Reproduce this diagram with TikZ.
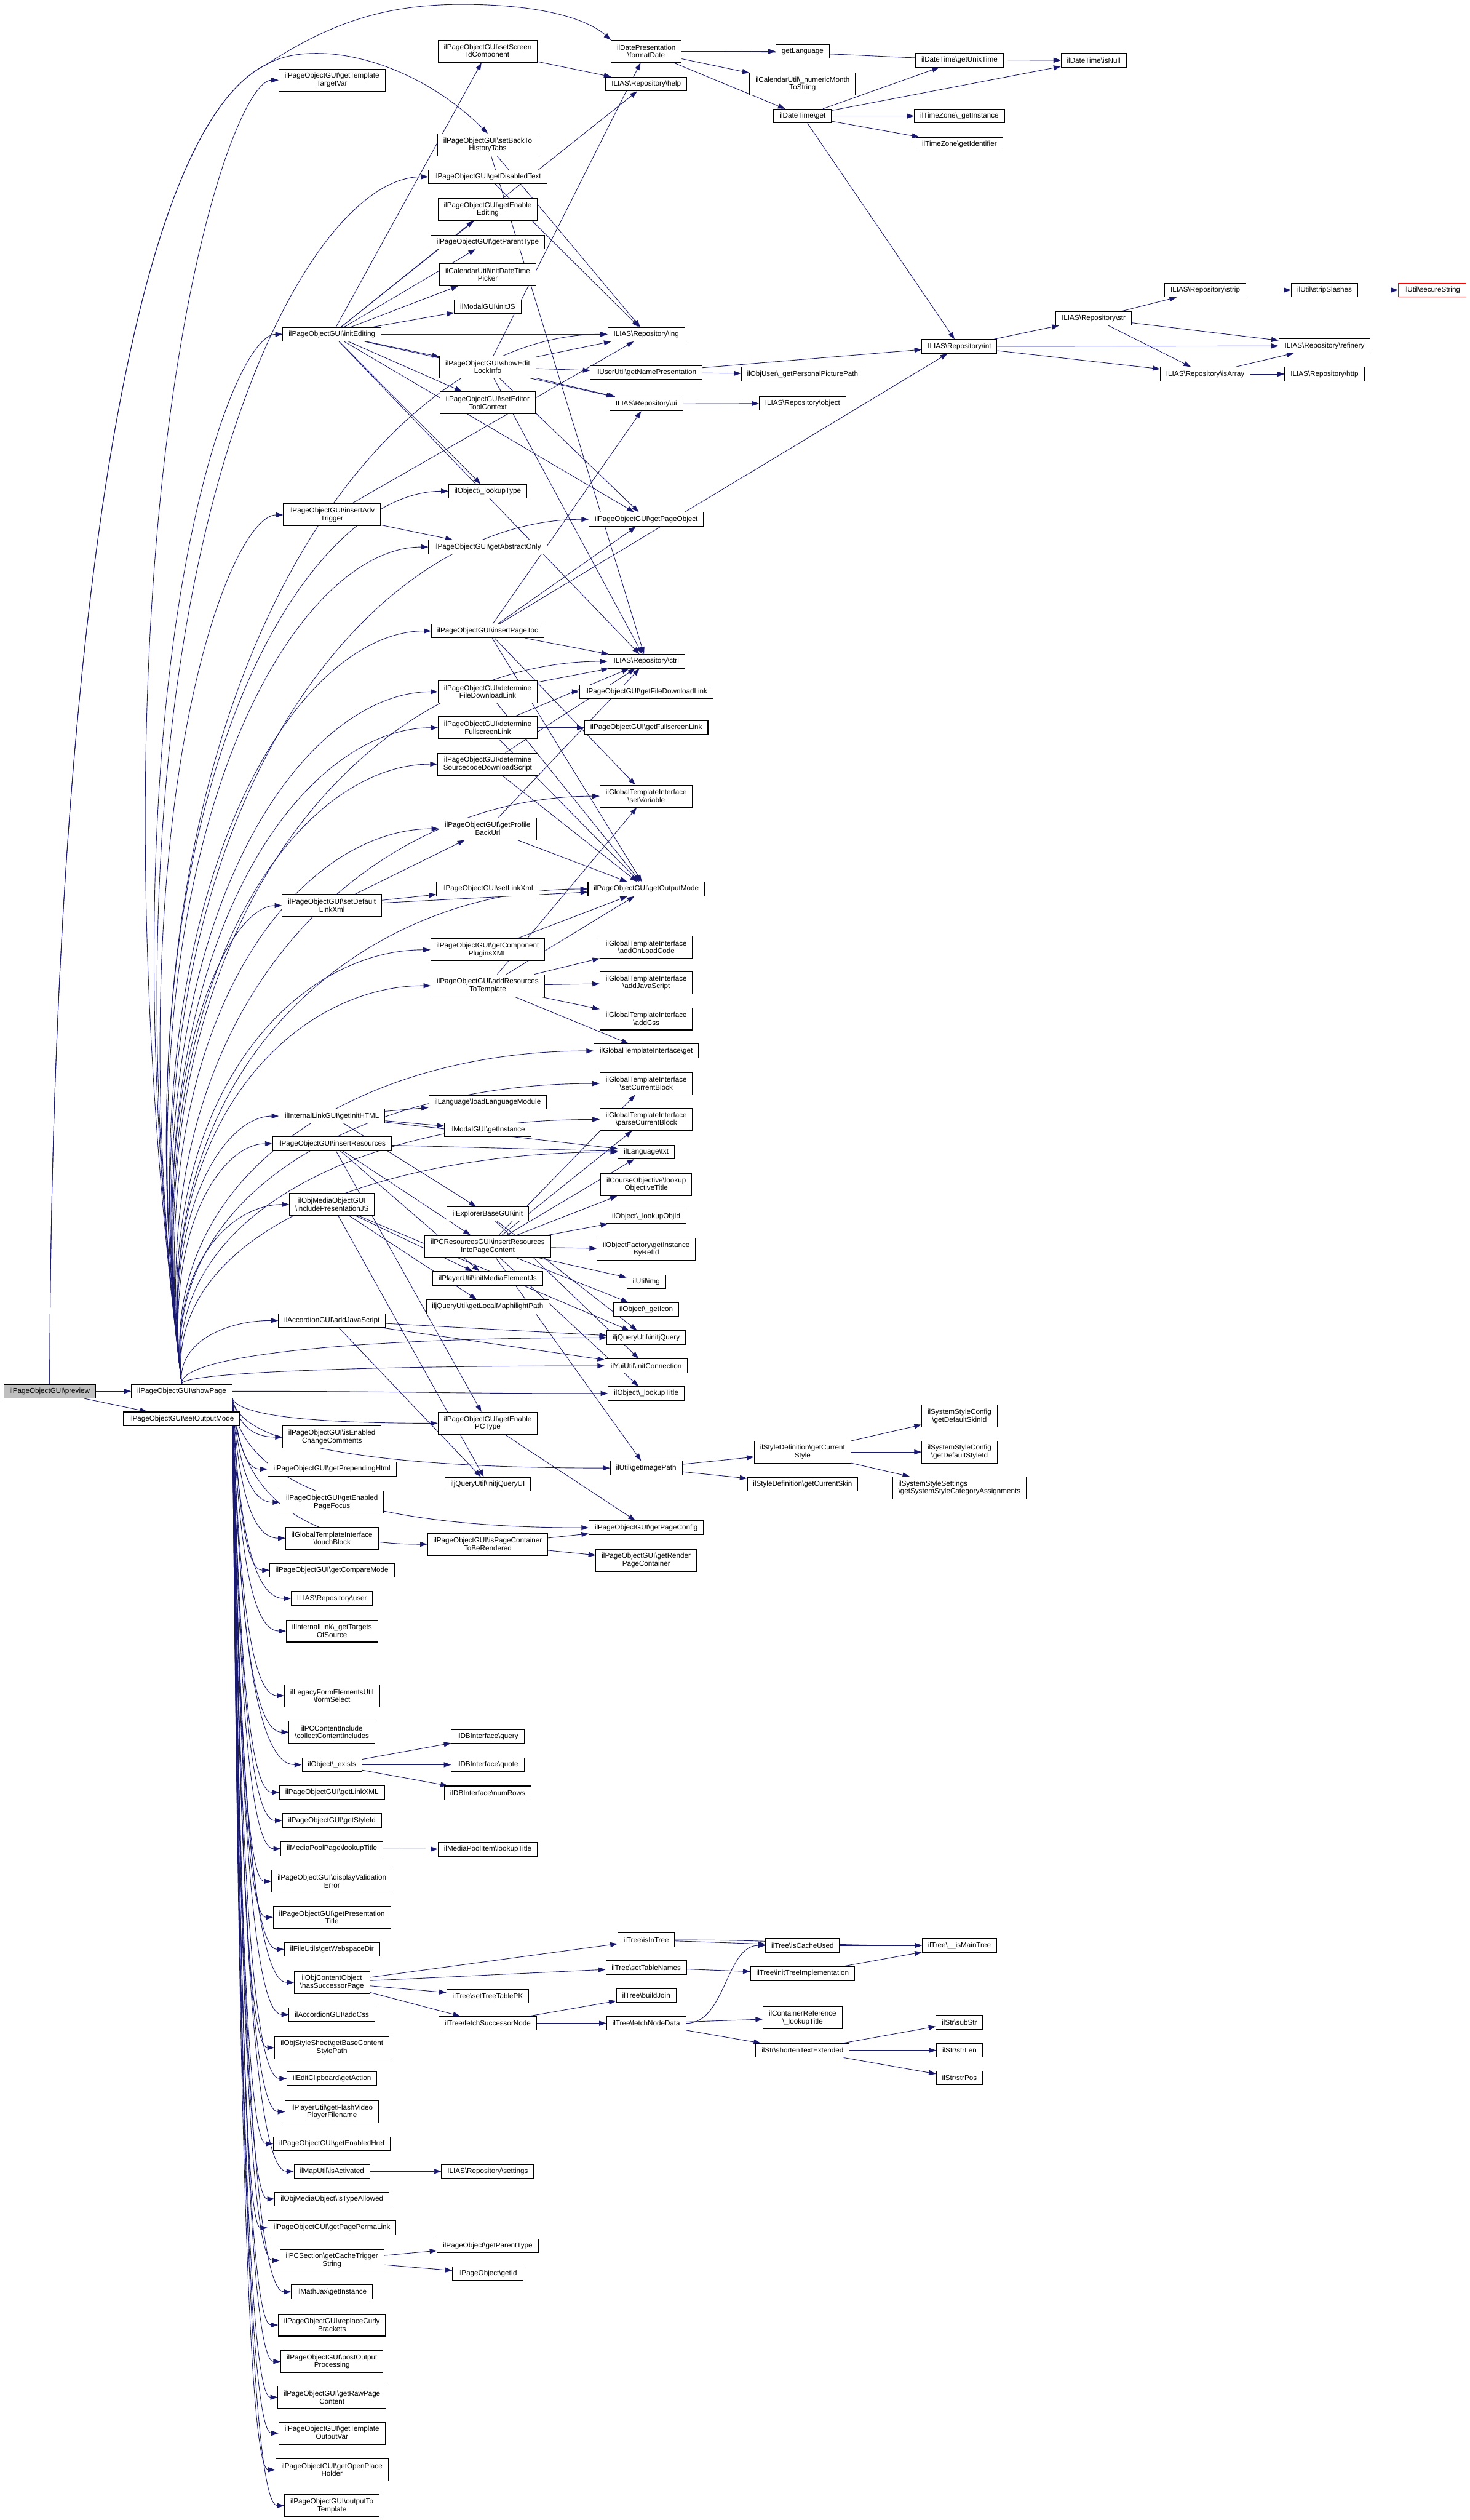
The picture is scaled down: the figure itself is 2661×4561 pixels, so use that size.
\documentclass[tikz,border=0pt]{standalone}
\usepackage{fontspec}
\setmainfont{Liberation Sans}
\usetikzlibrary{arrows.meta,calc}
\pgfdeclarelayer{bg}
\pgfsetlayers{bg,main}
\definecolor{edgeblue}{RGB}{25,25,112}
\definecolor{rootgray}{RGB}{191,191,191}
\newcommand\BSL{\textbackslash}
\newcommand\dfont{\fontsize{13}{14}\selectfont}
\newcommand\fup[2]{\draw[edg] let \p1=(#1), \p2=(#2.west) in (\p1) .. controls ({(\x1)-0.08*abs((\y2)-(\y1))},{0.35*(\y1)+0.65*(\y2)}) and ({(\x2)-0.55*((\x2)-(\x1))},{\y2}) .. (\p2);}
\newcommand\fdn[2]{\draw[edg] let \p1=(#1), \p2=(#2.west) in (\p1) .. controls ({(\x1)+12pt},{0.3*(\y1)+0.7*(\y2)}) and ({(\x2)-0.6*((\x2)-(\x1))},{\y2}) .. (\p2);}
\newcommand\ecv[2]{\draw[edg] (#1.east) .. controls ($(#1.east)!0.5!(#1.east-|#2.west)$) and ($(#2.west)!0.5!(#2.west-|#1.east)$) .. (#2.west);}
\newcommand\stl[2]{\draw[edg] (#1) -- (#2);}
\begin{document}
\begin{tikzpicture}[x=1pt,y=-1pt,
  nbox/.style={draw=black,line width=1.2pt,fill=white,inner xsep=10.5pt,inner ysep=0pt,minimum height=25pt,font=\dfont,align=center},
  nbox2/.style={nbox,minimum height=40pt},
  edg/.style={draw=edgeblue,line width=1pt,-{Triangle[length=13pt,width=9pt]}}]
\useasboundingbox (0,0) rectangle (2661,4561);
% column 0 / 1
\node[nbox,fill=rootgray] (pv) at (90,2518) {ilPageObjectGUI\BSL{}preview};
\node[nbox] (sp) at (329,2518) {ilPageObjectGUI\BSL{}showPage};
\node[nbox] (som) at (329,2568) {ilPageObjectGUI\BSL{}setOutputMode};
% column 2
\node[nbox2] (c2a) at (601,145) {ilPageObjectGUI\BSL{}getTemplate\\TargetVar};
\node[nbox] (ie) at (601,605) {ilPageObjectGUI\BSL{}initEditing};
\node[nbox2] (iat) at (601,932) {ilPageObjectGUI\BSL{}insertAdv\\Trigger};
\node[nbox2] (sdl) at (601,1639) {ilPageObjectGUI\BSL{}setDefault\\LinkXml};
\node[nbox] (gih) at (601,2020) {ilInternalLinkGUI\BSL{}getInitHTML};
\node[nbox] (irs) at (601,2070) {ilPageObjectGUI\BSL{}insertResources};
\node[nbox2] (ipj) at (601,2180) {ilObjMediaObjectGUI\\\BSL{}includePresentationJS};
\node[nbox] (ajs) at (601,2390) {ilAccordionGUI\BSL{}addJavaScript};
\node[nbox2] (iecc) at (601,2601) {ilPageObjectGUI\BSL{}isEnabled\\ChangeComments};
\node[nbox] (gph) at (601,2659) {ilPageObjectGUI\BSL{}getPrependingHtml};
\node[nbox2] (gepf) at (601,2719) {ilPageObjectGUI\BSL{}getEnabled\\PageFocus};
\node[nbox2] (tb) at (601,2784) {ilGlobalTemplateInterface\\\BSL{}touchBlock};
\node[nbox] (gcm) at (601,2842) {ilPageObjectGUI\BSL{}getCompareMode};
\node[nbox] (usr) at (601,2893) {ILIAS\BSL{}Repository\BSL{}user};
\node[nbox2] (gtos) at (601,2952) {ilInternalLink\BSL\_getTargets\\OfSource};
\node[nbox2] (fs) at (601,3069) {ilLegacyFormElementsUtil\\\BSL{}formSelect};
\node[nbox2] (cci) at (601,3135) {ilPCContentInclude\\\BSL{}collectContentIncludes};
\node[nbox] (ex) at (601,3194) {ilObject\BSL\_exists};
\node[nbox] (glx) at (601,3244) {ilPageObjectGUI\BSL{}getLinkXML};
\node[nbox] (gsi) at (601,3295) {ilPageObjectGUI\BSL{}getStyleId};
\node[nbox] (mplt) at (601,3346) {ilMediaPoolPage\BSL{}lookupTitle};
\node[nbox2] (dve) at (601,3405) {ilPageObjectGUI\BSL{}displayValidation\\Error};
\node[nbox2] (gpt) at (601,3470) {ilPageObjectGUI\BSL{}getPresentation\\Title};
\node[nbox] (gwd) at (601,3528) {ilFileUtils\BSL{}getWebspaceDir};
\node[nbox2] (hsp) at (601,3588) {ilObjContentObject\\\BSL{}hasSuccessorPage};
\node[nbox] (acss) at (601,3646) {ilAccordionGUI\BSL{}addCss};
\node[nbox2] (gbcs) at (601,3706) {ilObjStyleSheet\BSL{}getBaseContent\\StylePath};
\node[nbox] (gact) at (601,3762) {ilEditClipboard\BSL{}getAction};
\node[nbox2] (gfv) at (601,3822) {ilPlayerUtil\BSL{}getFlashVideo\\PlayerFilename};
\node[nbox] (geh) at (601,3880) {ilPageObjectGUI\BSL{}getEnabledHref};
\node[nbox] (iact) at (601,3930) {ilMapUtil\BSL{}isActivated};
\node[nbox] (ita) at (601,3980) {ilObjMediaObject\BSL{}isTypeAllowed};
\node[nbox] (gppl) at (601,4032) {ilPageObjectGUI\BSL{}getPagePermaLink};
\node[nbox2] (gcts) at (601,4091) {ilPCSection\BSL{}getCacheTrigger\\String};
\node[nbox] (mj) at (601,4148) {ilMathJax\BSL{}getInstance};
\node[nbox2] (rcb) at (601,4208) {ilPageObjectGUI\BSL{}replaceCurly\\Brackets};
\node[nbox2] (pop) at (601,4274) {ilPageObjectGUI\BSL{}postOutput\\Processing};
\node[nbox2] (grpc) at (601,4339) {ilPageObjectGUI\BSL{}getRawPage\\Content};
\node[nbox2] (gtov) at (601,4404) {ilPageObjectGUI\BSL{}getTemplate\\OutputVar};
\node[nbox2] (gopl) at (601,4470) {ilPageObjectGUI\BSL{}getOpenPlace\\Holder};
\node[nbox2] (otot) at (601,4535) {ilPageObjectGUI\BSL{}outputTo\\Template};
% column 3
\node[nbox2] (ssic) at (883,93) {ilPageObjectGUI\BSL{}setScreen\\IdComponent};
\node[nbox2] (sbth) at (883,262) {ilPageObjectGUI\BSL{}setBackTo\\HistoryTabs};
\node[nbox] (gdt) at (883,320) {ilPageObjectGUI\BSL{}getDisabledText};
\node[nbox2] (gee) at (883,379) {ilPageObjectGUI\BSL{}getEnable\\Editing};
\node[nbox] (gpty) at (883,438) {ilPageObjectGUI\BSL{}getParentType};
\node[nbox2] (idtp) at (883,497) {ilCalendarUtil\BSL{}initDateTime\\Picker};
\node[nbox] (ijs) at (883,555) {ilModalGUI\BSL{}initJS};
\node[nbox2] (seli) at (883,664) {ilPageObjectGUI\BSL{}showEdit\\LockInfo};
\node[nbox2] (setc) at (883,729) {ilPageObjectGUI\BSL{}setEditor\\ToolContext};
\node[nbox] (lty) at (883,889) {ilObject\BSL\_lookupType};
\node[nbox] (gao) at (883,990) {ilPageObjectGUI\BSL{}getAbstractOnly};
\node[nbox] (ipt) at (883,1142) {ilPageObjectGUI\BSL{}insertPageToc};
\node[nbox2] (dfdl) at (883,1252) {ilPageObjectGUI\BSL{}determine\\FileDownloadLink};
\node[nbox2] (dfl) at (883,1317) {ilPageObjectGUI\BSL{}determine\\FullscreenLink};
\node[nbox2] (dsds) at (883,1383) {ilPageObjectGUI\BSL{}determine\\SourcecodeDownloadScript};
\node[nbox2] (gpbu) at (883,1500) {ilPageObjectGUI\BSL{}getProfile\\BackUrl};
\node[nbox] (slx) at (883,1609) {ilPageObjectGUI\BSL{}setLinkXml};
\node[nbox2] (gcpx) at (883,1719) {ilPageObjectGUI\BSL{}getComponent\\PluginsXML};
\node[nbox2] (artt) at (883,1784) {ilPageObjectGUI\BSL{}addResources\\ToTemplate};
\node[nbox] (llm) at (883,1995) {ilLanguage\BSL{}loadLanguageModule};
\node[nbox] (mgi) at (883,2045) {ilModalGUI\BSL{}getInstance};
\node[nbox] (ebi) at (883,2197) {ilExplorerBaseGUI\BSL{}init};
\node[nbox2] (pcr) at (883,2256) {ilPCResourcesGUI\BSL{}insertResources\\IntoPageContent};
\node[nbox] (imej) at (883,2314) {ilPlayerUtil\BSL{}initMediaElementJs};
\node[nbox] (glmp) at (883,2365) {iljQueryUtil\BSL{}getLocalMaphilightPath};
\node[nbox2] (gepc) at (883,2576) {ilPageObjectGUI\BSL{}getEnable\\PCType};
\node[nbox] (ijqui) at (883,2686) {iljQueryUtil\BSL{}initjQueryUI};
\node[nbox2] (ipcr) at (883,2795) {ilPageObjectGUI\BSL{}isPageContainer\\ToBeRendered};
\node[nbox] (dbq) at (883,3143) {ilDBInterface\BSL{}query};
\node[nbox] (dbqu) at (883,3194) {ilDBInterface\BSL{}quote};
\node[nbox] (dbn) at (883,3245) {ilDBInterface\BSL{}numRows};
\node[nbox] (mpit) at (883,3347) {ilMediaPoolItem\BSL{}lookupTitle};
\node[nbox] (stpk) at (883,3613) {ilTree\BSL{}setTreeTablePK};
\node[nbox] (fsn) at (883,3662) {ilTree\BSL{}fetchSuccessorNode};
\node[nbox] (rset) at (883,3930) {ILIAS\BSL{}Repository\BSL{}settings};
\node[nbox] (pogpt) at (883,4065) {ilPageObject\BSL{}getParentType};
\node[nbox] (pogi) at (883,4115) {ilPageObject\BSL{}getId};
% column 4
\node[nbox2] (fd) at (1170,93) {ilDatePresentation\\\BSL{}formatDate};
\node[nbox] (hlp) at (1170,152) {ILIAS\BSL{}Repository\BSL{}help};
\node[nbox] (lng) at (1170,605) {ILIAS\BSL{}Repository\BSL{}lng};
\node[nbox] (gnp) at (1170,674) {ilUserUtil\BSL{}getNamePresentation};
\node[nbox] (rui) at (1170,731) {ILIAS\BSL{}Repository\BSL{}ui};
\node[nbox] (gpo) at (1170,940) {ilPageObjectGUI\BSL{}getPageObject};
\node[nbox] (ctrl) at (1170,1197) {ILIAS\BSL{}Repository\BSL{}ctrl};
\node[nbox] (gfdl) at (1170,1252) {ilPageObjectGUI\BSL{}getFileDownloadLink};
\node[nbox] (gfsl) at (1170,1317) {ilPageObjectGUI\BSL{}getFullscreenLink};
\node[nbox2] (sv) at (1170,1441) {ilGlobalTemplateInterface\\\BSL{}setVariable};
\node[nbox] (gom) at (1170,1609) {ilPageObjectGUI\BSL{}getOutputMode};
\node[nbox2] (aolc) at (1170,1714) {ilGlobalTemplateInterface\\\BSL{}addOnLoadCode};
\node[nbox2] (ajst) at (1170,1779) {ilGlobalTemplateInterface\\\BSL{}addJavaScript};
\node[nbox2] (acs) at (1170,1844) {ilGlobalTemplateInterface\\\BSL{}addCss};
\node[nbox] (gtg) at (1170,1902) {ilGlobalTemplateInterface\BSL{}get};
\node[nbox2] (scb) at (1170,1961) {ilGlobalTemplateInterface\\\BSL{}setCurrentBlock};
\node[nbox2] (pcb) at (1170,2026) {ilGlobalTemplateInterface\\\BSL{}parseCurrentBlock};
\node[nbox] (txt) at (1170,2085) {ilLanguage\BSL{}txt};
\node[nbox2] (lot) at (1170,2144) {ilCourseObjective\BSL{}lookup\\ObjectiveTitle};
\node[nbox] (loi) at (1170,2202) {ilObject\BSL\_lookupObjId};
\node[nbox2] (gibr) at (1170,2261) {ilObjectFactory\BSL{}getInstance\\ByRefId};
\node[nbox] (img) at (1170,2320) {ilUtil\BSL{}img};
\node[nbox] (gic) at (1170,2370) {ilObject\BSL\_getIcon};
\node[nbox] (ijq) at (1170,2421) {iljQueryUtil\BSL{}initjQuery};
\node[nbox] (ic) at (1170,2472) {ilYuiUtil\BSL{}initConnection};
\node[nbox] (ltit) at (1170,2522) {ilObject\BSL\_lookupTitle};
\node[nbox] (gip) at (1170,2657) {ilUtil\BSL{}getImagePath};
\node[nbox] (gpc) at (1170,2765) {ilPageObjectGUI\BSL{}getPageConfig};
\node[nbox2] (grpc2) at (1170,2824) {ilPageObjectGUI\BSL{}getRender\\PageContainer};
\node[nbox] (iit) at (1170,3511) {ilTree\BSL{}isInTree};
\node[nbox] (stn) at (1170,3561) {ilTree\BSL{}setTableNames};
\node[nbox] (bj) at (1170,3612) {ilTree\BSL{}buildJoin};
\node[nbox] (fnd) at (1170,3662) {ilTree\BSL{}fetchNodeData};
% column 5
\node[nbox] (gl) at (1453,93) {getLanguage};
\node[nbox2] (nmts) at (1453,152) {ilCalendarUtil\BSL\_numericMonth\\ToString};
\node[nbox] (dtg) at (1453,210) {ilDateTime\BSL{}get};
\node[nbox] (gppp) at (1453,677) {ilObjUser\BSL\_getPersonalPicturePath};
\node[nbox] (robj) at (1453,730) {ILIAS\BSL{}Repository\BSL{}object};
\node[nbox2] (gcs) at (1453,2628) {ilStyleDefinition\BSL{}getCurrent\\Style};
\node[nbox] (gcsk) at (1453,2686) {ilStyleDefinition\BSL{}getCurrentSkin};
\node[nbox] (icu) at (1453,3521) {ilTree\BSL{}isCacheUsed};
\node[nbox] (iti) at (1453,3572) {ilTree\BSL{}initTreeImplementation};
\node[nbox2] (crlt) at (1453,3652) {ilContainerReference\\\BSL\_lookupTitle};
\node[nbox] (ste) at (1453,3711) {ilStr\BSL{}shortenTextExtended};
% column 6
\node[nbox] (gut) at (1737,109) {ilDateTime\BSL{}getUnixTime};
\node[nbox] (tzgi) at (1737,210) {ilTimeZone\BSL\_getInstance};
\node[nbox] (tzid) at (1737,261) {ilTimeZone\BSL{}getIdentifier};
\node[nbox] (rint) at (1737,627) {ILIAS\BSL{}Repository\BSL{}int};
\node[nbox2] (dsk) at (1737,2563) {ilSystemStyleConfig\\\BSL{}getDefaultSkinId};
\node[nbox2] (dst) at (1737,2628) {ilSystemStyleConfig\\\BSL{}getDefaultStyleId};
\node[nbox2,align=left] (ssca) at (1737,2693) {ilSystemStyleSettings\\\BSL{}getSystemStyleCategoryAssignments};
\node[nbox] (imt) at (1737,3521) {ilTree\BSL\_\_isMainTree};
\node[nbox] (ssub) at (1737,3660) {ilStr\BSL{}subStr};
\node[nbox] (slen) at (1737,3711) {ilStr\BSL{}strLen};
\node[nbox] (spos) at (1737,3761) {ilStr\BSL{}strPos};
% column 7-10
\node[nbox] (isn) at (1980,109) {ilDateTime\BSL{}isNull};
\node[nbox] (rstr) at (1980,576) {ILIAS\BSL{}Repository\BSL{}str};
\node[nbox] (rstrip) at (2182,525) {ILIAS\BSL{}Repository\BSL{}strip};
\node[nbox] (risa) at (2182,677) {ILIAS\BSL{}Repository\BSL{}isArray};
\node[nbox] (uss) at (2398,525) {ilUtil\BSL{}stripSlashes};
\node[nbox] (rref) at (2398,626) {ILIAS\BSL{}Repository\BSL{}refinery};
\node[nbox] (rhttp) at (2398,677) {ILIAS\BSL{}Repository\BSL{}http};
\node[nbox,draw=red] (usec) at (2593,525) {ilUtil\BSL{}secureString};
\begin{pgfonlayer}{bg}
\fill[white] (0,0) rectangle (2661,4561);
% preview
\stl{pv}{sp} \stl{pv}{som}
\draw[edg] (pv.north) .. controls (92,1400) and (200,260) .. (480,118) .. controls (600,40) and (700,6) .. (850,8) .. controls (1000,10) and (1070,40) .. (fd.north west);
\draw[edg] (pv.north) .. controls (92,1400) and (200,260) .. (480,118) .. controls (560,70) and (740,100) .. (sbth.north);
% showPage fan
\foreach \nn in {c2a,ie,iat,sdl,gih,irs,ipj,ajs,gdt,lty,gao,ipt,dfdl,dfl,dsds,gpbu,gcpx,artt,ctrl,sv,gom,gtg,scb,pcb,txt,ijq,ic,lng,gpo}{\fup{sp.north}{\nn}}
\foreach \nn in {iecc,gph,gepf,tb,gcm,usr,gtos,fs,cci,ex,glx,gsi,mplt,dve,gpt,gwd,hsp,acss,gbcs,gact,gfv,geh,iact,ita,gppl,gcts,mj,rcb,pop,grpc,gtov,gopl,otot,gepc,ipcr,gip,gpc}{\fdn{sp.south east}{\nn}}
\ecv{sp}{ltit}
% initEditing
\foreach \nn in {ssic,hlp,gee,gpty,idtp,ijs,lng,seli,setc,lty,ctrl,gpo,rui}{\stl{ie}{\nn}}
\stl{iat}{gao} \stl{iat}{lng}
\stl{sbth}{lng} \stl{sbth}{ctrl} \stl{gdt}{lng} \stl{ssic}{hlp}
\foreach \nn in {fd,gnp,rui,lng,ctrl,gpo}{\stl{seli}{\nn}}
\foreach \nn in {rint,gpo,rui,ctrl,sv,gom}{\stl{ipt}{\nn}}
\stl{dfdl}{ctrl} \stl{dfdl}{gfdl} \stl{dfdl}{gom}
\stl{dfl}{ctrl} \stl{dfl}{gfsl} \stl{dfl}{gom}
\stl{dsds}{ctrl} \stl{dsds}{gom}
\stl{gpbu}{ctrl} \stl{gpbu}{gom}
\stl{sdl}{gpbu} \stl{sdl}{slx} \stl{sdl}{gom}
\stl{gcpx}{gom}
\foreach \nn in {aolc,ajst,acs,gtg,gom,sv}{\stl{artt}{\nn}}
\foreach \nn in {llm,mgi,ebi,txt}{\stl{gih}{\nn}}
\foreach \nn in {pcr,txt,gepc,imej}{\stl{irs}{\nn}}
\foreach \nn in {imej,glmp,ijqui,ijq}{\stl{ipj}{\nn}}
\foreach \nn in {ijqui,ijq,ic}{\stl{ajs}{\nn}}
\stl{ebi}{ijq} \stl{ebi}{ic}
\foreach \nn in {txt,lot,loi,gibr,img,gic,ltit,gip,pcb,scb}{\stl{pcr}{\nn}}
\stl{gepc}{gpc} \stl{ipcr}{gpc} \stl{ipcr}{grpc2}
\stl{ex}{dbq} \stl{ex}{dbqu} \stl{ex}{dbn}
\stl{mplt}{mpit}
\stl{hsp}{iit} \stl{hsp}{stn} \stl{hsp}{stpk} \stl{hsp}{fsn}
\stl{fsn}{bj} \stl{fsn}{fnd}
\stl{iact}{rset}
\stl{gcts}{pogpt} \stl{gcts}{pogi}
% right part
\stl{fd}{gl} \stl{fd}{nmts} \stl{fd}{dtg} \ecv{fd}{isn}
\stl{dtg}{gut} \stl{dtg}{isn} \stl{dtg}{tzgi} \stl{dtg}{tzid} \stl{dtg}{rint}
\stl{gut}{isn}
\stl{gnp}{gppp} \stl{gnp}{rint}
\stl{rui}{robj}
\stl{rint}{rstr} \stl{rint}{rref} \stl{rint}{risa}
\stl{rstr}{rstrip} \stl{rstr}{rref} \stl{rstr}{risa}
\stl{rstrip}{uss} \stl{uss}{usec}
\stl{risa}{rref} \stl{risa}{rhttp}
\stl{gip}{gcs} \stl{gip}{gcsk}
\stl{gcs}{dsk} \stl{gcs}{dst} \stl{gcs}{ssca}
\stl{iit}{icu} \ecv{iit}{imt} \stl{icu}{imt}
\stl{stn}{iti} \stl{iti}{imt}
\ecv{fnd}{icu} \stl{fnd}{crlt} \stl{fnd}{ste}
\stl{ste}{ssub} \stl{ste}{slen} \stl{ste}{spos}
\end{pgfonlayer}
\end{tikzpicture}
\end{document}
